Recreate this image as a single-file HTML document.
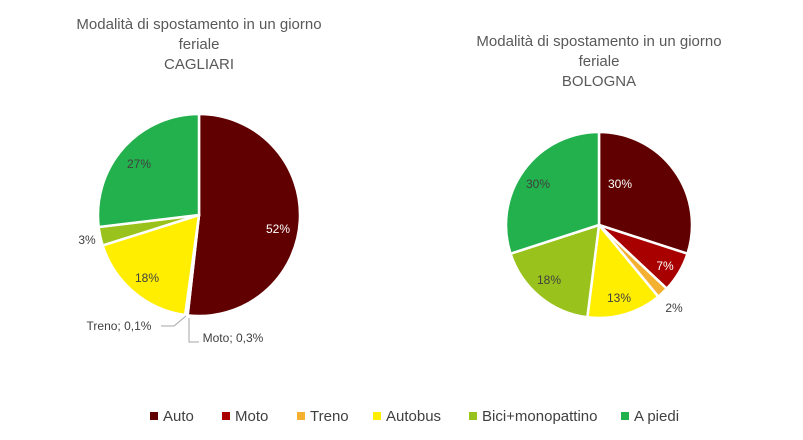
<!DOCTYPE html>
<html><head><meta charset="utf-8"><style>
body{margin:0;background:#fff;width:803px;height:435px;overflow:hidden;font-family:"Liberation Sans",sans-serif}
</style></head><body>
<svg id="s" width="803" height="435" xmlns="http://www.w3.org/2000/svg" font-family="Liberation Sans, sans-serif">
<g font-size="15" fill="#595959" text-anchor="middle">
<text x="199" y="29">Modalità di spostamento in un giorno</text>
<text x="199" y="49">feriale</text>
<text x="199" y="69">CAGLIARI</text>
<text x="599" y="46">Modalità di spostamento in un giorno</text>
<text x="599" y="66">feriale</text>
<text x="599" y="86">BOLOGNA</text>
</g>
<g id="p1"></g><g id="p2"></g>
<g font-size="12" fill="#404040" text-anchor="middle">
<text x="278" y="233" fill="#fff">52%</text>
<text x="139" y="168">27%</text>
<text x="87" y="244">3%</text>
<text x="147" y="282">18%</text>
<text x="620" y="188" fill="#fff">30%</text>
<text x="538" y="188">30%</text>
<text x="665" y="270" fill="#fff">7%</text>
<text x="674" y="312">2%</text>
<text x="619" y="302">13%</text>
<text x="549" y="284">18%</text>
<text x="119" y="330">Treno; 0,1%</text>
<text x="233" y="342">Moto; 0,3%</text>
</g>
<polyline points="161,326 174,326 186,316" fill="none" stroke="#a6a6a6" stroke-width="1"/>
<polyline points="199,342 189,342 189,318" fill="none" stroke="#a6a6a6" stroke-width="1"/>
<g font-size="15" fill="#404040">
<rect x="150" y="412" width="8" height="8" fill="#600000"/><text x="163" y="421">Auto</text>
<rect x="222" y="412" width="8" height="8" fill="#a80000"/><text x="235" y="421">Moto</text>
<rect x="297" y="412" width="8" height="8" fill="#f4b030"/><text x="310" y="421">Treno</text>
<rect x="373" y="412" width="8" height="8" fill="#ffee00"/><text x="386" y="421">Autobus</text>
<rect x="469" y="412" width="8" height="8" fill="#99c31c"/><text x="482" y="421">Bici+monopattino</text>
<rect x="621" y="412" width="8" height="8" fill="#22b14c"/><text x="634" y="421">A piedi</text>
</g>
</svg>
<script>
var cols=["#600000","#a80000","#f4b030","#ffee00","#99c31c","#22b14c"];
function pie(id,cx,cy,r,vals){var t=vals.reduce((a,b)=>a+b,0),a=0,h="";
vals.forEach(function(v,i){var a2=a+v/t*2*Math.PI;
function pt(q){return (cx+r*Math.sin(q)).toFixed(2)+","+(cy-r*Math.cos(q)).toFixed(2)}
h+='<path d="M'+cx+','+cy+' L'+pt(a)+' A'+r+','+r+' 0 '+(a2-a>Math.PI?1:0)+' 1 '+pt(a2)+' Z" fill="'+cols[i]+'" stroke="#fff" stroke-width="2.5" stroke-linejoin="round"/>';a=a2;});
document.getElementById(id).innerHTML=h;}
pie("p1",199,215,101,[52,0.3,0.1,18,3,27]);
pie("p2",599,225,93,[30,7,2,13,18,30]);
</script>
</body></html>
